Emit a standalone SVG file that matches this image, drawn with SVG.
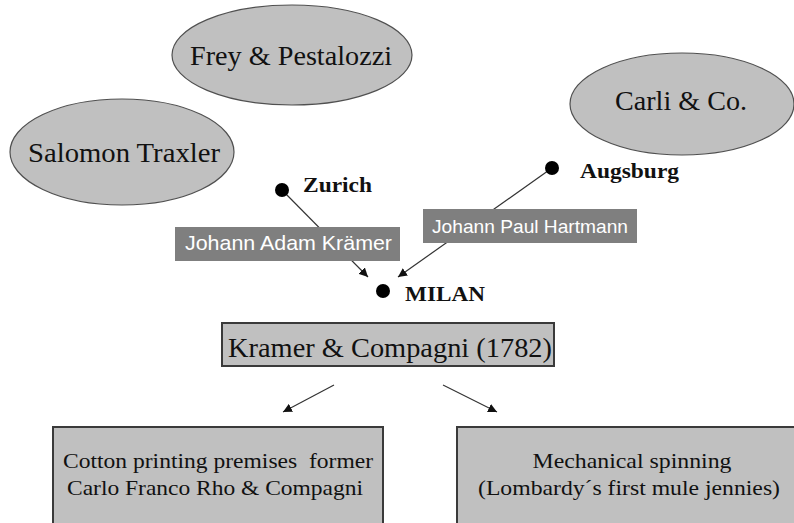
<svg xmlns="http://www.w3.org/2000/svg" width="794" height="523" viewBox="0 0 794 523">
<defs>
<style>
.ell{fill:#c0c0c0;stroke:#505050;stroke-width:1.2}
.box{fill:#c0c0c0;stroke:#3a3a3a;stroke-width:2}
.lbl{fill:#7f7f7f}
.serif{font-family:"Liberation Serif","Times New Roman",serif;fill:#111}
.city{font-family:"Liberation Serif","Times New Roman",serif;font-weight:bold;font-size:22px;fill:#111}
.white{font-family:"Liberation Sans",Arial,sans-serif;fill:#fff}
.conn{stroke:#333;stroke-width:1.2;fill:none}
</style>
<marker id="ah" viewBox="0 0 10 10" refX="10" refY="5" markerWidth="9" markerHeight="9" markerUnits="userSpaceOnUse" orient="auto">
<path d="M0,0 L10,5 L0,10 z" fill="#111"/>
</marker>
</defs>
<rect width="794" height="523" fill="#fff"/>

<g id="connectors">
<line class="conn" x1="282" y1="190" x2="368" y2="277" marker-end="url(#ah)"/>
<line class="conn" x1="552" y1="168" x2="398" y2="277" marker-end="url(#ah)"/>
<line class="conn" x1="334" y1="385" x2="283" y2="412" marker-end="url(#ah)"/>
<line class="conn" x1="443" y1="385" x2="497" y2="412" marker-end="url(#ah)"/>
</g>

<g id="frey">
<ellipse class="ell" cx="292" cy="55" rx="120" ry="50"/>
<text class="serif" x="291" y="65" font-size="28" text-anchor="middle" textLength="202" lengthAdjust="spacingAndGlyphs">Frey &amp; Pestalozzi</text>
</g>
<g id="traxler">
<ellipse class="ell" cx="122" cy="152" rx="112" ry="53"/>
<text class="serif" x="124" y="162" font-size="28" text-anchor="middle" textLength="192" lengthAdjust="spacingAndGlyphs">Salomon Traxler</text>
</g>
<g id="carli">
<ellipse class="ell" cx="682" cy="104" rx="112" ry="51"/>
<text class="serif" x="681" y="110" font-size="28" text-anchor="middle" textLength="132" lengthAdjust="spacingAndGlyphs">Carli &amp; Co.</text>
</g>

<g id="zurich">
<circle cx="282" cy="190" r="7" fill="#000"/>
<text class="city" x="303" y="192" textLength="69" lengthAdjust="spacingAndGlyphs">Zurich</text>
</g>
<g id="augsburg">
<circle cx="552" cy="168" r="7" fill="#000"/>
<text class="city" x="580" y="178" textLength="99" lengthAdjust="spacingAndGlyphs">Augsburg</text>
</g>
<g id="milan">
<circle cx="383" cy="291" r="7" fill="#000"/>
<text class="city" x="405" y="301" textLength="80" lengthAdjust="spacingAndGlyphs">MILAN</text>
</g>

<g id="kramer-label">
<rect class="lbl" x="175" y="227" width="225" height="34"/>
<text class="white" x="185" y="250" font-size="21" textLength="207" lengthAdjust="spacingAndGlyphs">Johann Adam Krämer</text>
</g>
<g id="hartmann-label">
<rect class="lbl" x="423" y="209" width="214" height="34"/>
<text class="white" x="432" y="233" font-size="19" textLength="196" lengthAdjust="spacingAndGlyphs">Johann Paul Hartmann</text>
</g>

<g id="kramer-compagni">
<rect class="box" x="222" y="323" width="332" height="43"/>
<text class="serif" x="390" y="357" font-size="28" text-anchor="middle" textLength="324" lengthAdjust="spacingAndGlyphs">Kramer &amp; Compagni (1782)</text>
</g>

<g id="cotton-printing">
<rect class="box" x="53" y="427" width="330" height="110" stroke="#555"/>
<text class="serif" x="218" y="468" font-size="22" text-anchor="middle" textLength="310" lengthAdjust="spacingAndGlyphs" xml:space="preserve">Cotton printing premises  former</text>
<text class="serif" x="215" y="495" font-size="22" text-anchor="middle" textLength="296" lengthAdjust="spacingAndGlyphs">Carlo Franco Rho &amp; Compagni</text>
</g>
<g id="mechanical-spinning">
<rect class="box" x="457" y="427" width="350" height="110" stroke="#555"/>
<text class="serif" x="632" y="468" font-size="22" text-anchor="middle" textLength="199" lengthAdjust="spacingAndGlyphs">Mechanical spinning</text>
<text class="serif" x="629" y="495" font-size="22" text-anchor="middle" textLength="302" lengthAdjust="spacingAndGlyphs">(Lombardy´s first mule jennies)</text>
</g>
</svg>
